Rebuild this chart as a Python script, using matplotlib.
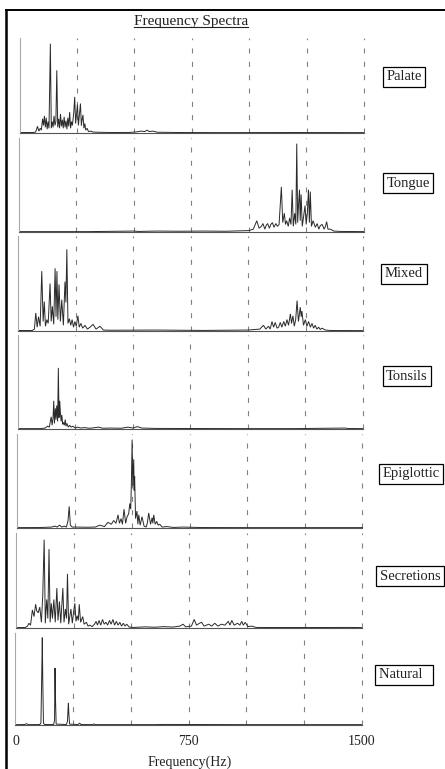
import matplotlib
matplotlib.use("Agg")
import matplotlib.pyplot as plt
from matplotlib.lines import Line2D

plt.rcParams['font.family'] = ['Liberation Serif', 'DejaVu Serif']

# ---------------- data: (frequency Hz, relative amplitude) ----------------
panel_names = ['Palate', 'Tongue', 'Mixed', 'Tonsils', 'Epiglottic', 'Secretions', 'Natural']
x_ticks = [0, 750, 1500]
x_tick_labels = ['0', '750', '1500']
grid_hz = [250, 500, 750, 1000, 1250, 1500]

palate_pts = [(0, .005), (60, .005), (70, .01), (78, .07), (84, .02), (90, .05), (95, .03), (100, .15),
              (104, .08), (108, .18), (112, .06), (116, .16), (120, .04), (124, .12), (128, .05),
              (134, .94), (138, .05), (142, .12), (146, .06), (150, .18), (154, .08), (158, .12),
              (162, .66), (166, .06), (170, .15), (174, .05), (178, .20), (182, .07), (186, .14),
              (190, .05), (194, .17), (198, .06), (202, .13), (206, .04), (210, .16), (214, .07),
              (218, .22), (222, .05), (226, .12), (230, .08), (236, .22), (240, .38), (244, .10),
              (248, .20), (252, .30), (256, .08), (260, .18), (265, .31), (269, .08), (272, .14),
              (276, .19), (280, .05), (284, .10), (288, .03), (294, .05), (300, .015), (310, .02),
              (320, .01), (340, .008), (400, .005), (480, .006), (510, .012), (530, .02), (545, .015),
              (555, .03), (565, .015), (580, .02), (600, .008), (700, .005), (900, .004), (1200, .005),
              (1500, .004)]

tongue_pts = [(0, .004), (300, .004), (500, .01), (520, .006), (600, .01), (700, .008), (800, .01),
              (900, .008), (1000, .015), (1020, .03), (1035, .12), (1045, .04), (1055, .06), (1062, .09),
              (1070, .03), (1076, .07), (1082, .09), (1090, .04), (1096, .08), (1103, .10), (1110, .05),
              (1118, .09), (1125, .06), (1132, .08), (1142, .48), (1148, .10), (1155, .20), (1160, .08),
              (1165, .12), (1172, .06), (1178, .15), (1184, .08), (1189, .45), (1194, .06), (1200, .20),
              (1205, .08), (1209, .94), (1213, .10), (1217, .30), (1221, .45), (1224, .12), (1228, .40),
              (1233, .06), (1238, .15), (1245, .28), (1250, .08), (1255, .20), (1260, .45), (1264, .10),
              (1268, .43), (1273, .06), (1280, .12), (1290, .05), (1298, .09), (1305, .03), (1312, .07),
              (1320, .08), (1328, .03), (1334, .06), (1339, .11), (1345, .03), (1356, .03), (1370, .01),
              (1400, .006), (1500, .004)]

mixed_pts = [(0, .005), (60, .005), (70, .02), (76, .19), (82, .04), (88, .15), (95, .05), (102, .63),
             (108, .10), (113, .31), (118, .05), (124, .12), (130, .08), (138, .50), (143, .10),
             (148, .26), (154, .07), (160, .66), (164, .15), (168, .63), (172, .12), (177, .49),
             (183, .10), (189, .33), (196, .06), (203, .52), (207, .30), (211, .86), (216, .08),
             (222, .13), (228, .06), (234, .12), (240, .04), (246, .10), (252, .05), (259, .16),
             (265, .04), (272, .08), (280, .03), (290, .06), (300, .02), (312, .04), (325, .07),
             (338, .02), (355, .05), (370, .01), (400, .008), (600, .01), (800, .006), (1000, .01),
             (1050, .02), (1066, .06), (1076, .02), (1088, .05), (1095, .02), (1103, .10), (1110, .04),
             (1117, .09), (1125, .03), (1132, .04), (1139, .09), (1146, .04), (1154, .10), (1161, .05),
             (1168, .12), (1175, .06), (1183, .18), (1188, .08), (1194, .16), (1200, .05), (1206, .12),
             (1212, .32), (1218, .10), (1226, .25), (1230, .15), (1233, .21), (1240, .06), (1248, .12),
             (1255, .05), (1262, .10), (1270, .04), (1277, .08), (1284, .03), (1291, .06), (1298, .02),
             (1306, .04), (1313, .015), (1320, .03), (1335, .01), (1360, .005), (1500, .004)]

tonsils_pts = [(0, .004), (100, .004), (120, .01), (130, .03), (138, .02), (142, .08), (146, .13),
               (150, .04), (154, .12), (157, .30), (160, .06), (164, .22), (167, .10), (170, .25),
               (174, .08), (177, .65), (180, .12), (183, .30), (186, .17), (189, .08), (192, .15),
               (196, .05), (199, .07), (203, .04), (207, .10), (210, .03), (214, .06), (220, .02),
               (226, .04), (232, .02), (240, .03), (250, .01), (260, .02), (275, .01), (290, .015),
               (310, .008), (330, .012), (351, .02), (370, .008), (400, .01), (450, .008), (480, .02),
               (500, .01), (520, .025), (540, .01), (600, .006), (800, .005), (1000, .004),
               (1200, .004), (1420, .01), (1440, .005), (1500, .004)]

epiglottic_pts = [(0, .004), (100, .005), (150, .01), (165, .02), (175, .01), (185, .03), (195, .01),
                  (205, .02), (215, .01), (222, .08), (227, .23), (232, .03), (240, .01), (260, .01),
                  (300, .008), (340, .01), (360, .03), (380, .015), (395, .06), (410, .04), (420, .08),
                  (430, .05), (439, .14), (445, .05), (452, .10), (458, .04), (465, .20), (472, .05),
                  (478, .12), (485, .15), (490, .26), (494, .20), (497, .49), (500, .94), (503, .45),
                  (507, .73), (509, .40), (511, .55), (515, .10), (521, .18), (525, .04), (529, .14),
                  (535, .03), (543, .12), (552, .02), (561, .01), (566, .05), (572, .16), (580, .04),
                  (587, .11), (590, .05), (594, .14), (600, .04), (607, .07), (613, .03), (620, .04),
                  (630, .01), (650, .015), (680, .006), (720, .01), (800, .005), (1000, .004),
                  (1200, .004), (1500, .004)]

secretions_pts = [(0, .004), (40, .005), (50, .02), (56, .05), (63, .03), (71, .19), (78, .12), (85, .25),
                  (90, .18), (96, .16), (103, .22), (110, .06), (116, .35), (122, .93), (127, .05),
                  (133, .30), (138, .10), (143, .83), (148, .06), (153, .26), (158, .10), (164, .30),
                  (170, .06), (177, .42), (182, .08), (188, .28), (194, .05), (200, .30), (203, .42),
                  (208, .06), (214, .20), (219, .10), (223, .57), (228, .04), (233, .12), (238, .20),
                  (244, .05), (250, .18), (255, .26), (260, .07), (265, .13), (270, .08), (274, .25),
                  (280, .06), (289, .12), (295, .04), (305, .06), (312, .02), (320, .03), (330, .015),
                  (340, .04), (347, .07), (353, .03), (360, .08), (367, .03), (375, .09), (382, .04),
                  (390, .06), (397, .03), (405, .08), (412, .04), (420, .09), (427, .03), (435, .07),
                  (442, .03), (450, .06), (457, .02), (465, .05), (472, .02), (480, .04), (490, .01),
                  (510, .006), (560, .012), (600, .008), (640, .014), (680, .01), (710, .02), (724, .04),
                  (735, .012), (760, .02), (772, .09), (782, .03), (795, .05), (804, .06), (815, .02),
                  (835, .04), (848, .02), (861, .05), (875, .02), (890, .04), (905, .03), (920, .07),
                  (927, .03), (935, .08), (945, .03), (960, .05), (970, .03), (978, .07), (985, .03),
                  (993, .06), (1005, .015), (1021, .02), (1040, .006), (1100, .005), (1300, .005),
                  (1450, .006), (1500, .004)]

natural_pts = [(0, .004), (40, .005), (48, .015), (55, .004), (105, .005), (110, .02), (114, .6),
               (116, .95), (118, .5), (121, .02), (126, .005), (165, .005), (169, .05), (171, .62),
               (173, .3), (176, .01), (220, .005), (225, .04), (228, .2), (229, .24), (231, .12),
               (234, .01), (270, .005), (278, .02), (283, .005), (335, .004), (340, .012), (345, .004),
               (600, .004), (650, .006), (1000, .004), (1500, .004)]

spectra = [palate_pts, tongue_pts, mixed_pts, tonsils_pts, epiglottic_pts, secretions_pts, natural_pts]

# ---------------- layout (pixels) ----------------
W, H = 445, 769
panel_top = [38, 138, 236, 335, 434, 533, 633]
panel_bot = [133, 232, 331, 429, 528, 628, 725]
panel_left = [19.6, 19.0, 18.3, 17.6, 16.9, 16.0, 15.5]
panel_right = [364, 363.6, 363.3, 362.9, 362.5, 362.2, 362]
label_pos = [(404, 77), (408, 183), (404, 274), (407, 376), (411, 474), (410, 576), (404, 675)]

fig = plt.figure(figsize=(W / 100, H / 100), dpi=100)
fig.patch.set_facecolor('white')

ink = '#222222'
axes = []
for i, (name, pts) in enumerate(zip(panel_names, spectra)):
    l, r, t, b = panel_left[i], panel_right[i], panel_top[i], panel_bot[i]
    ax = fig.add_axes([l / W, 1 - b / H, (r - l) / W, (b - t) / H])
    hz = [p[0] for p in pts]
    amp = [p[1] for p in pts]
    ax.plot(hz, amp, color='#2a2a2a', lw=0.7, solid_joinstyle='miter')
    for g in grid_hz:
        ax.axvline(g, color='#808080', lw=0.8, linestyle=(0, (4.5, 7.5)), clip_on=False, zorder=0)
    ax.set_xlim(0, 1500)
    ax.set_ylim(0, 1)
    for s in ['top', 'right']:
        ax.spines[s].set_visible(False)
    ax.spines['left'].set_color('#a8a8a8')
    ax.spines['left'].set_linewidth(0.8)
    ax.spines['bottom'].set_color('#555555')
    ax.spines['bottom'].set_linewidth(0.8)
    ax.set_yticks([])
    ax.tick_params(axis='x', length=0)
    if i < len(panel_names) - 1:
        ax.set_xticks([])
    else:
        ax.set_xticks(x_ticks)
        ax.set_xticklabels(x_tick_labels, fontsize=10, color=ink)
        ax.tick_params(axis='x', pad=7)
    lx, ly = label_pos[i]
    txt = name + '  ' if name == 'Natural' else name
    fig.text(lx / W, 1 - ly / H, txt, ha='center', va='center', fontsize=10.5, color=ink,
             bbox=dict(boxstyle='square,pad=0.25', fc='white', ec='black', lw=0.9))
    axes.append(ax)

fig.text(190 / W, 1 - 762 / H, 'Frequency(Hz)', ha='center', va='center', fontsize=10, color=ink)
title = fig.text(191 / W, 1 - 21 / H, 'Frequency Spectra', ha='center', va='center', fontsize=11, color=ink)

# underline the title
fig.canvas.draw()
bb = title.get_window_extent()
uy = bb.y0 + 1.0
fig.add_artist(Line2D([bb.x0 / W, bb.x1 / W], [uy / H, uy / H], color=ink, lw=0.8,
                      transform=fig.transFigure))

# page frame: left and top border
fig.add_artist(Line2D([6 / W, 6 / W], [0, 1 - 10 / H], color='black', lw=1.8, transform=fig.transFigure))
fig.add_artist(Line2D([6 / W, 1], [1 - 10 / H, 1 - 10 / H], color='black', lw=1.4, transform=fig.transFigure))

fig.savefig('out.png', dpi=100, facecolor='white')
